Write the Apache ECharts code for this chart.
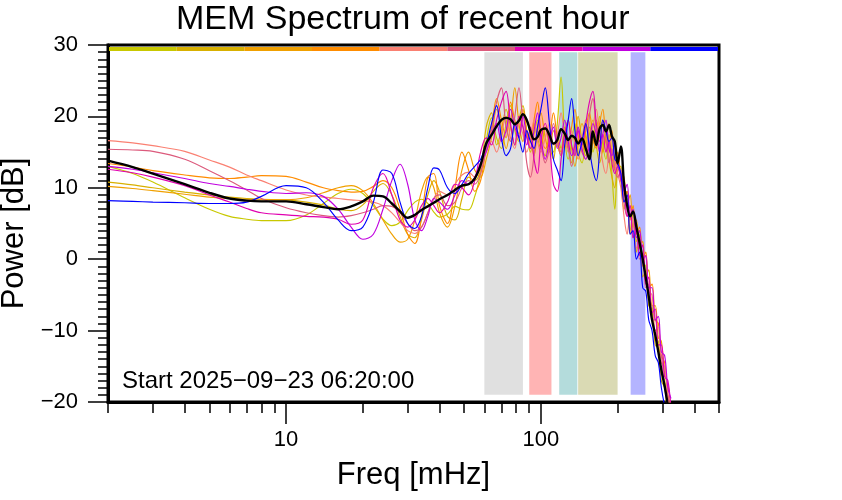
<!DOCTYPE html>
<html><head><meta charset="utf-8">
<script src="https://cdn.jsdelivr.net/npm/echarts@6/dist/echarts.min.js"></script>
<style>html,body{margin:0;padding:0;background:#fff}#c{width:842px;height:500px}</style>
</head><body><div id="c"></div>
<script>
const freqs = [2,2.5,3,4,5,6,7,8,10,12,14,16,18,20,22,24,26,28,30,32,34,36,38,40,43,46,49,52,55,58,61,64,67,70,73,76,79,82,85,88,91,94,97,100,104,108,112,116,120,124,128,132,136,140,145,150,155,160,165,170,175,180,185,190,195,200,206,212,218,224,230,237,244,251,258,265,273,281,289,297,306,315,324];

const meanPower = [13.8,12.9,12.0,10.5,9.3,8.5,8.2,8.1,8.1,7.7, 7.3,7.0,7.4,8.1,8.9,8.8,7.8,6.7,5.8,6.2, 6.9,7.4,7.9,8.4,9.0,9.7,10.3,10.5,11.3,13.2, 16.2,17.4,18.6,19.5,19.8,19.6,18.9,19.4,20.3,19.5, 17.9,16.8,17.1,18.1,18.3,17.4,16.2,16.7,18.2,17.6, 16.7,17.3,17.0,16.2,16.9,15.5,14.0,17.9,16.0,18.3, 18.8,17.9,18.8,17.2,16.5,13.4,15.8,10.5,7.5,6.0, 6.7,4.5,2.3,0.0,-2.6,-5.2,-8.5,-10.6,-13.0,-15.5, -17.8,-20.5,-23];

const specYellowGreen = [13.0,12.0,10.8,8.6,7.0,6.0,5.6,5.4,5.4,6.2, 7.8,9.2,9.8,9.2,7.5,5.6,4.7,5.2,6.8,8.0, 8.4,7.8,6.6,5.9,6.3,7.4,7.0,6.9,8.8,12.0, 16.5,19.8,17.0,15.5,19.0,21.5,18.0,16.5,20.5,18.0, 15.0,17.5,19.5,16.0,14.5,17.5,15.0,19.0,25.5,17.0, 14.0,16.5,19.0,15.0,13.5,16.5,18.5,15.0,17.0,20.0, 16.0,14.0,17.5,12.0,7.0,12.5,13.0,8.0,9.5,4.0, 6.5,2.5,4.0,-0.5,-1.0,-5.5,-6.5,-11.0,-11.5,-16.0, -17.0,-21,-23];
const specGold = [10.8,10.4,10.0,9.4,9.0,8.7,8.5,8.4,8.3,8.0, 7.6,7.0,6.8,7.6,9.5,10.6,9.0,6.0,3.5,3.0, 5.5,9.0,11.0,9.5,6.0,5.5,8.5,11.5,11.0,12.5, 18.5,20.5,16.0,18.0,21.0,18.5,16.0,19.5,21.5,18.0, 16.5,19.0,17.0,15.5,18.5,16.0,14.0,17.5,15.5,18.5, 16.0,13.5,17.0,20.0,16.5,14.5,17.5,19.5,16.0,13.5, 15.5,18.0,14.0,11.5,10.0,13.5,11.0,7.0,8.5,3.5, 5.0,1.0,3.5,-2.5,-1.5,-6.5,-7.0,-12.0,-12.5,-17.0, -18.0,-22,-24];
const specOrange = [10.2,9.9,9.6,9.1,8.7,8.5,8.4,8.3,8.3,8.6, 9.3,10.0,10.3,9.6,7.8,5.5,3.5,2.4,2.8,5.5, 9.5,11.5,10.0,6.5,4.5,7.5,12.5,15.0,12.5,11.5, 14.0,17.0,21.0,18.5,15.5,19.0,24.0,19.0,16.5,19.5, 17.0,14.5,18.0,20.5,17.0,15.0,18.0,16.0,14.5,17.5, 19.5,15.5,13.0,16.0,19.0,17.0,14.0,16.5,19.5,17.5, 15.0,17.0,19.0,14.5,12.5,15.0,12.0,11.5,7.5,9.0, 4.5,5.5,1.5,2.5,-2.5,-1.5,-6.5,-6.5,-11.0,-11.5, -16.0,-17.5,-21];
const specDarkOrange = [13.4,12.9,12.4,11.8,11.4,11.3,11.5,11.7,11.6,10.8, 10.0,9.6,9.4,9.5,10.2,11.0,10.0,7.0,3.5,2.2, 6.0,11.5,12.0,7.5,5.0,10.0,15.0,12.5,9.5,11.0, 15.5,18.5,22.5,19.5,17.0,22.0,19.5,17.5,21.0,17.5, 15.5,19.5,22.0,18.0,15.5,17.0,20.5,17.0,15.0,17.5, 15.5,18.5,21.0,17.5,15.0,18.0,20.5,17.0,15.5,19.0, 21.0,16.5,15.5,18.0,13.0,14.5,11.5,9.0,9.5,5.5, 7.5,3.5,4.5,0.0,1.0,-4.0,-3.5,-8.5,-9.0,-13.5, -14.5,-19.0,-21.5];
const specSalmon = [16.6,16.3,15.9,15.1,13.9,12.9,11.8,11.0,9.7,9.0, 8.7,8.5,8.3,8.2,8.0,7.5,6.5,5.2,4.0,3.6, 4.5,6.5,8.5,9.5,9.0,10.5,11.8,12.2,11.5,12.8, 15.0,16.5,15.0,17.5,20.0,17.0,15.5,19.0,17.5,15.0, 17.0,19.5,16.5,15.0,17.0,19.0,16.0,17.5,20.5,17.0, 15.0,18.0,16.0,14.0,17.0,19.5,16.0,18.5,21.0,17.0, 13.5,12.0,15.0,17.5,13.5,12.0,10.0,6.0,3.5,6.0, 5.5,1.5,3.0,-1.0,0.5,-4.5,-5.0,-10.0,-9.5,-14.5, -15.0,-19.5,-21.5];
const specPink = [15.4,15.3,15.1,14.0,12.4,11.0,9.7,8.5,7.2,6.5, 6.1,5.9,6.1,6.5,7.0,7.5,7.4,6.5,5.0,4.0, 4.5,6.5,8.5,9.0,7.5,8.0,10.0,11.0,10.5,12.0, 15.5,18.0,22.0,24.0,18.5,16.5,20.0,24.0,19.0,13.5, 11.5,14.5,18.0,16.0,13.5,15.5,19.0,16.5,14.5,17.5, 15.5,13.0,15.5,18.5,15.0,14.0,20.0,22.5,18.0,15.5, 19.5,17.0,13.5,15.5,12.5,11.5,12.5,8.0,6.0,6.5, 3.0,4.0,0.0,0.5,-4.0,-3.5,-8.5,-8.5,-13.0,-13.5, -18.0,-19.0,-23];
const specMagenta = [12.6,12.1,11.5,10.3,9.0,8.0,7.1,6.5,6.2,6.0, 5.9,5.6,4.9,5.5,10.0,12.0,9.0,5.5,4.5,5.5, 7.5,8.5,7.5,6.5,8.0,10.5,10.0,9.0,11.0,15.0, 17.0,16.0,19.5,22.0,23.5,19.0,16.0,20.0,18.5,16.0, 18.5,14.0,12.0,16.5,19.0,16.0,10.5,9.5,14.0,17.5, 19.5,16.0,14.5,18.0,16.0,19.0,22.0,23.5,19.0,16.5, 17.5,15.0,16.5,13.5,12.0,13.0,11.0,10.0,6.0,7.5, 3.0,4.5,0.5,2.0,-3.5,-2.5,-7.5,-7.0,-12.0,-12.0, -16.5,-17.0,-21];
const specPurple = [13.0,12.6,12.1,11.3,10.6,10.2,9.8,9.5,9.2,9.3, 8.8,7.0,4.5,2.8,3.5,7.0,11.0,13.3,10.5,5.5, 4.0,6.0,8.5,8.0,7.0,9.0,11.0,10.5,11.5,13.5, 15.0,17.5,19.0,16.5,18.0,21.0,18.5,17.0,20.0,17.0, 15.5,18.0,20.5,17.0,14.0,16.5,18.5,15.5,17.0,19.5, 16.5,14.5,16.0,18.5,15.5,14.0,16.0,19.0,17.5,15.0, 17.5,19.5,15.5,14.5,16.0,13.0,12.0,9.5,10.5,6.0, 7.0,3.0,4.0,0.0,0.5,-4.0,-4.0,-8.5,-8.0,-13.0, -13.5,-18.0,-19.5];
const specBlue = [8.2,8.1,8.0,7.9,7.8,7.8,8.0,8.8,10.3,10.0, 8.0,5.5,4.0,4.5,8.0,12.5,12.0,8.0,5.0,4.3, 6.0,10.0,12.8,12.5,10.0,9.2,10.5,12.0,13.0,14.0, 16.0,19.0,21.5,17.0,14.5,15.5,19.0,17.0,15.0,18.0, 16.5,15.5,18.5,21.0,24.0,19.0,14.0,12.5,11.0,16.0, 19.5,22.5,18.0,14.5,16.5,19.0,15.5,12.5,11.0,15.0, 19.5,18.0,16.5,17.0,14.0,13.5,12.0,8.0,9.0,3.5, 4.0,0.0,1.0,-4.0,-4.5,-8.5,-10.0,-13.5,-14.5,-18.0, -20.5,-22,-24];

const lineColors = ['#c8c800','#d8b000','#f0a000','#ff8c00','#fa8072','#dc5a7c','#e000b0','#c000e0','#0000ff'];
const timeSegments = ['1','2','3','4','5','6','7','8','9'];

const bandStart = [60, 90, 118, 140, 225];
const bandEnd = [85, 110, 139, 200, 257];
const bandColors = ['#e0e0e0','#ffb4b4','#b4dcdc','#dadab4','#b4b4ff'];
const bandBottom = -19;
const bandTop = 29;

const xMajorTicks = [10, 100];
const xMinorTicks = [2,3,4,5,6,7,8,9,20,30,40,50,60,70,80,90,200,300,400,500];

const FONT = '"Liberation Sans", Arial, Helvetica, sans-serif';
const spectra = [specYellowGreen, specGold, specOrange, specDarkOrange, specSalmon, specPink, specMagenta, specPurple, specBlue];

const chart = echarts.init(document.getElementById('c'), null, {renderer: 'canvas'});
const fmtMinus = v => (v < 0 ? '\u2212' + Math.abs(v) : String(v));

const series = spectra.map((arr, k) => ({
  type: 'line',
  xAxisIndex: 0, yAxisIndex: 0,
  data: freqs.map((f, i) => [f, arr[i]]),
  symbol: 'none', smooth: 0.35,
  lineStyle: {color: lineColors[k], width: 1.15},
  z: 3,
  silent: true
}));
series[0].markArea = {
  silent: true,
  z: 1,
  data: bandStart.map((s, i) => [
    {xAxis: s, yAxis: bandBottom, itemStyle: {color: bandColors[i], opacity: 1}},
    {xAxis: bandEnd[i], yAxis: bandTop}
  ])
};
series.push({
  type: 'line', xAxisIndex: 0, yAxisIndex: 0,
  data: freqs.map((f, i) => [f, meanPower[i]]),
  symbol: 'none', smooth: 0.35,
  lineStyle: {color: '#000', width: 2.4},
  z: 4, silent: true
});
series.push({
  type: 'bar', xAxisIndex: 2, yAxisIndex: 1,
  data: lineColors.map(c => ({value: 1, itemStyle: {color: c}})),
  barWidth: '100%', barCategoryGap: 0, silent: true, z: 5
});

chart.setOption({
  animation: false,
  backgroundColor: '#fff',
  textStyle: {fontFamily: FONT},
  title: [
    {text: 'MEM Spectrum of recent hour', left: 171, top: -2,
     textStyle: {fontFamily: FONT, fontSize: 34, fontWeight: 'normal', color: '#000'}},
    {text: 'Start 2025\u221209\u221223 06:20:00', left: 117, top: 364,
     textStyle: {fontFamily: FONT, fontSize: 24, fontWeight: 'normal', color: '#000'}}
  ],
  grid: [
    {left: 108, right: 123, top: 45, bottom: 98, show: true, borderColor: '#000', borderWidth: 3,
     backgroundColor: 'transparent', containLabel: false, outerBoundsMode: 'none'},
    {left: 109, right: 124, top: 47, height: 4, containLabel: false, outerBoundsMode: 'none'}
  ],
  xAxis: [
    {type: 'log', gridIndex: 0, min: 2, max: 500, logBase: 10, position: 'bottom',
     axisLine: {show: true, onZero: false, lineStyle: {color: '#000', width: 3}},
     axisTick: {show: true, customValues: xMajorTicks, length: 22, lineStyle: {color: '#000', width: 1.5}},
     axisLabel: {show: true, customValues: xMajorTicks, fontSize: 22, color: '#000', margin: 27, fontFamily: FONT},
     splitLine: {show: false}, minorTick: {show: false},
     name: 'Freq [mHz]', nameLocation: 'middle', nameGap: 58,
     nameTextStyle: {fontSize: 31, color: '#000', fontFamily: FONT}},
    {type: 'log', gridIndex: 0, min: 2, max: 500, logBase: 10, position: 'bottom',
     axisLine: {show: false, onZero: false},
     axisTick: {show: true, customValues: xMinorTicks, length: 11, lineStyle: {color: '#000', width: 1.5}},
     axisLabel: {show: false}, splitLine: {show: false}},
    {type: 'category', gridIndex: 1, data: timeSegments, show: false, boundaryGap: true}
  ],
  yAxis: [
    {type: 'value', gridIndex: 0, min: -20, max: 30, interval: 10,
     axisLine: {show: true, onZero: false, lineStyle: {color: '#000', width: 3}},
     axisTick: {show: true, length: 20, lineStyle: {color: '#000', width: 1.5}},
     minorTick: {show: true, splitNumber: 10, length: 10, lineStyle: {color: '#000', width: 1.5}},
     axisLabel: {fontSize: 22, color: '#000', margin: 30, formatter: fmtMinus, fontFamily: FONT},
     splitLine: {show: false},
     name: 'Power [dB]', nameLocation: 'middle', nameGap: 74, nameRotate: 90,
     nameTextStyle: {fontSize: 31, color: '#000', fontFamily: FONT, padding: [0, 20, 0, 0]}},
    {type: 'value', gridIndex: 1, min: 0, max: 1, show: false}
  ],
  series: series
});
</script>
</body></html>
